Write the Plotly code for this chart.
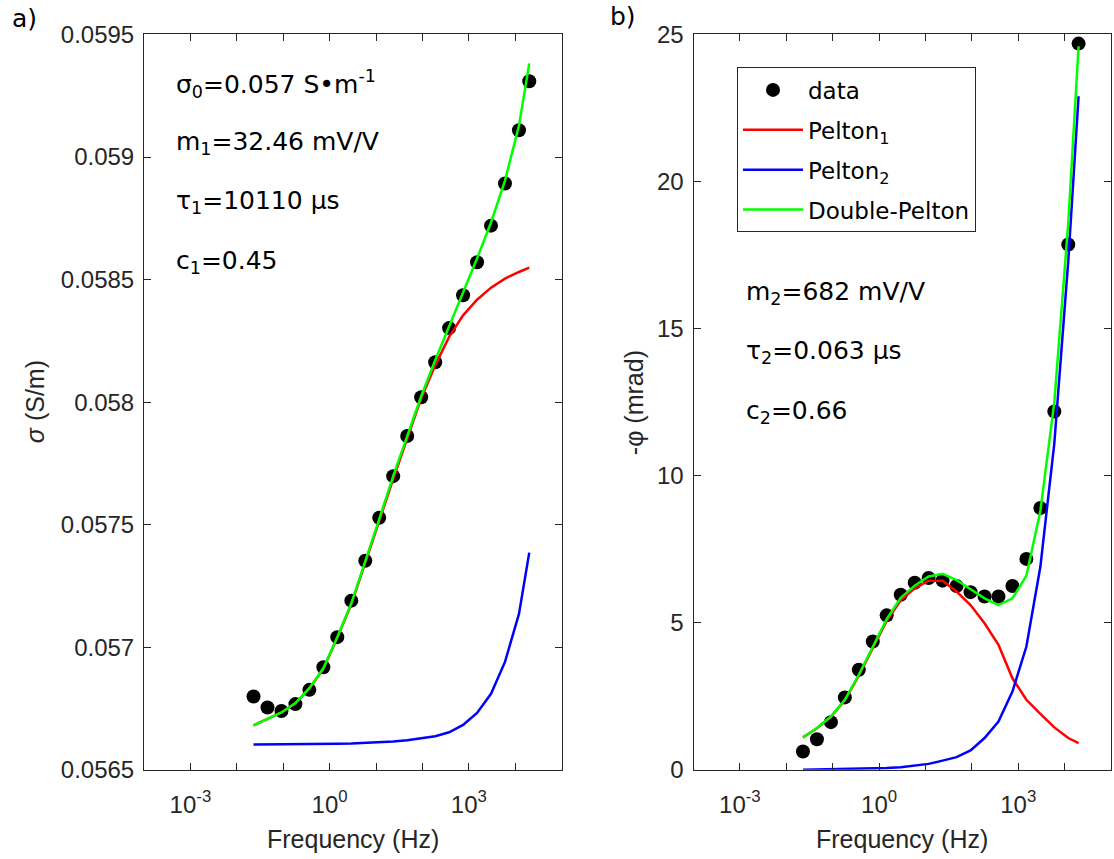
import plotly.graph_objects as go

# ---------------- data ----------------
freq = [0.0229, 0.0458, 0.0916, 0.183, 0.366, 0.732, 1.46, 2.93, 5.86, 11.7,
        23.4, 46.9, 93.8, 188, 375, 750, 1500, 3000, 6000, 12000, 20000]

# panel a) conductivity (S/m)
sigma_data = [0.056799, 0.056754, 0.056740, 0.056768, 0.056826, 0.056918, 0.057041,
              0.057190, 0.057353, 0.057528, 0.057698, 0.057862, 0.058020, 0.058163,
              0.058302, 0.058436, 0.058571, 0.058720, 0.058892, 0.059109, 0.059309]
sigma_p1 = [0.056681, 0.056707, 0.056734, 0.056771, 0.056832, 0.056912, 0.057039,
            0.057175, 0.057342, 0.057515, 0.057686, 0.057848, 0.058015, 0.058150,
            0.058266, 0.058354, 0.058418, 0.058467, 0.058504, 0.058531, 0.058549]
sigma_p2 = [0.056603, 0.056603, 0.056603, 0.056604, 0.056604, 0.056605, 0.056606,
            0.056607, 0.056609, 0.056611, 0.056615, 0.056620, 0.056628, 0.056637,
            0.056653, 0.056683, 0.056732, 0.056810, 0.056940, 0.057136, 0.057386]
sigma_dp = [0.056681, 0.056707, 0.056734, 0.056772, 0.056833, 0.056914, 0.057041,
            0.057179, 0.057348, 0.057523, 0.057698, 0.057865, 0.058024, 0.058171,
            0.058309, 0.058444, 0.058586, 0.058733, 0.058904, 0.059128, 0.059382]

# panel b) -phase (mrad)
phase_data = [0.62, 1.04, 1.62, 2.46, 3.40, 4.36, 5.25, 5.95, 6.36, 6.52, 6.43,
              6.25, 6.04, 5.89, 5.89, 6.25, 7.17, 8.90, 12.18, 17.86, 24.69]
phase_p1 = [1.10, 1.41, 1.80, 2.36, 3.20, 4.13, 5.06, 5.76, 6.17, 6.43, 6.43,
            6.06, 5.60, 4.98, 4.25, 3.11, 2.38, 1.90, 1.44, 1.08, 0.91]
phase_p2 = [0.0, 0.01, 0.01, 0.02, 0.03, 0.04, 0.06, 0.09, 0.14, 0.20, 0.31,
            0.43, 0.66, 1.08, 1.64, 2.66, 4.19, 6.9, 11.1, 17.3, 22.9]
phase_dp = [1.10, 1.42, 1.81, 2.38, 3.23, 4.17, 5.12, 5.85, 6.26, 6.57, 6.66,
            6.45, 6.14, 5.83, 5.60, 5.83, 6.6, 8.8, 12.5, 18.6, 24.6]

# ticks
x_tickvals = [1e-3, 1e0, 1e3]
x_ticktext = ["10<sup>-3</sup>", "10<sup>0</sup>", "10<sup>3</sup>"]
x_minorvals = [1e-4, 1e-3, 1e-2, 1e-1, 1e0, 1e1, 1e2, 1e3, 1e4, 1e5]
sig_tickvals = [0.0565, 0.057, 0.0575, 0.058, 0.0585, 0.059, 0.0595]
sig_ticktext = ["0.0565", "0.057", "0.0575", "0.058", "0.0585", "0.059", "0.0595"]
ph_tickvals = [0, 5, 10, 15, 20, 25]
ph_ticktext = ["0", "5", "10", "15", "20", "25"]

legend_names = ["data", "Pelton<sub>1</sub>", "Pelton<sub>2</sub>", "Double-Pelton"]
ann_a = ["σ<sub>0</sub>=0.057 S•m<sup>-1</sup>", "m<sub>1</sub>=32.46 mV/V",
         "τ<sub>1</sub>=10110 µs", "c<sub>1</sub>=0.45"]
ann_b = ["m<sub>2</sub>=682 mV/V", "τ<sub>2</sub>=0.063 µs", "c<sub>2</sub>=0.66"]

# ---------------- styles ----------------
W, H = 1114, 859
# empirical screen mapping of the photographed page (vertical)
Y0, YS = 13.5, 0.9695
TICKFONT = "Liberation Sans, Arial, sans-serif"
TXTFONT = "DejaVu Sans, sans-serif"
AXC = "#262626"
RED, BLUE, GREEN = "#FF0000", "#0000FF", "#00FF00"
LW = 2.5


def px(x):   # screen pixel -> paper x
    return x / W


def py(y):   # screen pixel -> paper y
    return 1 - ((y - Y0) / YS) / H


fig = go.Figure()

# panel a
fig.add_trace(go.Scatter(x=freq, y=sigma_data, mode="markers", xaxis="x", yaxis="y",
                         marker=dict(color="black", size=14), showlegend=False))
fig.add_trace(go.Scatter(x=freq, y=sigma_p1, mode="lines", xaxis="x", yaxis="y",
                         line=dict(color=RED, width=LW), showlegend=False))
fig.add_trace(go.Scatter(x=freq, y=sigma_p2, mode="lines", xaxis="x", yaxis="y",
                         line=dict(color=BLUE, width=LW), showlegend=False))
fig.add_trace(go.Scatter(x=freq, y=sigma_dp, mode="lines", xaxis="x", yaxis="y",
                         line=dict(color=GREEN, width=LW), showlegend=False))

# panel b
fig.add_trace(go.Scatter(x=freq, y=phase_data, mode="markers", xaxis="x2", yaxis="y2",
                         marker=dict(color="black", size=14), name=legend_names[0],
                         legendgroup="a"))
fig.add_trace(go.Scatter(x=freq, y=phase_p1, mode="lines", xaxis="x2", yaxis="y2",
                         line=dict(color=RED, width=LW), name=legend_names[1],
                         legendgroup="b"))
fig.add_trace(go.Scatter(x=freq, y=phase_p2, mode="lines", xaxis="x2", yaxis="y2",
                         line=dict(color=BLUE, width=LW), name=legend_names[2],
                         legendgroup="c"))
fig.add_trace(go.Scatter(x=freq, y=phase_dp, mode="lines", xaxis="x2", yaxis="y2",
                         line=dict(color=GREEN, width=LW), name=legend_names[3],
                         legendgroup="d"))

y_dom = [py(770), py(34)]
xa1 = [px(144), px(561.7)]
xa2 = [px(693.5), px(1111)]

common_x = dict(type="log", range=[-4, 5], tickmode="array", tickvals=x_tickvals,
                ticktext=x_ticktext, ticks="inside", ticklen=7, tickcolor=AXC,
                minor=dict(tickmode="array", tickvals=x_minorvals, ticks="inside",
                           ticklen=7, tickcolor=AXC, showgrid=False),
                ticklabelstandoff=13,
                showline=True, linecolor=AXC, linewidth=1, mirror="allticks",
                showgrid=False, zeroline=False,
                tickfont=dict(family=TICKFONT, size=24, color=AXC))
common_y = dict(ticks="inside", ticklen=7, tickcolor=AXC, showline=True, linecolor=AXC,
                linewidth=1, mirror="allticks", showgrid=False, zeroline=False,
                ticklabelstandoff=4,
                tickmode="array", tickfont=dict(family=TICKFONT, size=24, color=AXC))

fig.update_layout(
    width=W, height=H, autosize=False,
    margin=dict(l=0, r=0, t=0, b=0),
    paper_bgcolor="white", plot_bgcolor="white",
    xaxis=dict(domain=xa1, anchor="y", **common_x),
    yaxis=dict(domain=y_dom, anchor="x", range=[0.0565, 0.0595], tickvals=sig_tickvals,
               ticktext=sig_ticktext, **common_y),
    xaxis2=dict(domain=xa2, anchor="y2", **common_x),
    yaxis2=dict(domain=y_dom, anchor="x2", range=[0, 25], tickvals=ph_tickvals,
                ticktext=ph_ticktext, **common_y),
    legend=dict(x=px(737), y=py(67), xanchor="left", yanchor="top",
                bordercolor=AXC, borderwidth=1, bgcolor="white",
                font=dict(family=TXTFONT, size=23, color="black"),
                itemwidth=60, tracegroupgap=7, traceorder="grouped"),
    showlegend=True,
)

anns = []


def txt(x, y, s, size=25, angle=0, xanchor="left", color="black", family=TXTFONT):
    anns.append(dict(x=px(x), y=py(y), xref="paper", yref="paper", text=s,
                     showarrow=False, xanchor=xanchor, yanchor="middle",
                     textangle=angle, font=dict(family=family, size=size, color=color)))


for s, yy in zip(ann_a, [84, 143, 202, 262]):
    txt(174, yy, s)
for s, yy in zip(ann_b, [293, 352, 412]):
    txt(744, yy, s)
txt(10, 18, "a)", size=25)
txt(608, 16, "b)", size=25)
txt(353, 839, "Frequency (Hz)", size=25, xanchor="center", color=AXC, family=TICKFONT)
txt(902, 839, "Frequency (Hz)", size=25, xanchor="center", color=AXC, family=TICKFONT)
txt(35, 402, "<i>σ</i> (S/m)", size=25, angle=-90, xanchor="center", color=AXC, family=TICKFONT)
txt(634, 403, "-φ (mrad)", size=25, angle=-90, xanchor="center", color=AXC, family=TICKFONT)
fig.update_layout(annotations=anns)

fig.write_html("out.html", config={"displayModeBar": False},
               post_script="document.body.style.margin='0';")
